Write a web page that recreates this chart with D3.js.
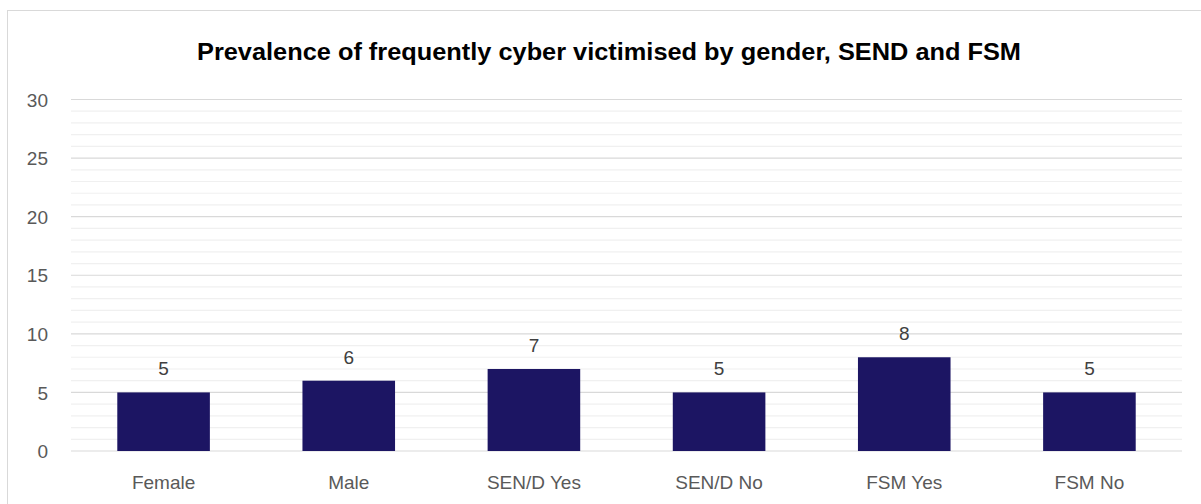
<!DOCTYPE html>
<html>
<head>
<meta charset="utf-8">
<script src="https://cdn.jsdelivr.net/npm/d3@7"></script>
<style>
  html, body { margin: 0; padding: 0; background: #ffffff; }
  svg { display: block; }
</style>
</head>
<body>
<svg id="chart" width="1201" height="504"></svg>
<script>
const title = "Prevalence of frequently cyber victimised by gender, SEND and FSM";
const categories = ["Female", "Male", "SEN/D Yes", "SEN/D No", "FSM Yes", "FSM No"];
const values = [5, 6, 7, 5, 8, 5];
const yTicks = [0, 5, 10, 15, 20, 25, 30];
const yMinorTicks = d3.range(0, 31, 1);

const svg = d3.select("#chart");
const W = 1201, H = 504;
const margin = { left: 71, right: 19, top: 99.5, bottom: 53 };

// chart border
svg.append("rect")
  .attr("x", 7.5).attr("y", 10.5)
  .attr("width", 1220).attr("height", 520)
  .attr("fill", "#ffffff")
  .attr("stroke", "#d9d9d9").attr("stroke-width", 1);

const x = d3.scaleBand()
  .domain(categories)
  .range([margin.left, W - margin.right])
  .paddingInner(0.5).paddingOuter(0.25);

const y = d3.scaleLinear()
  .domain([0, 30])
  .range([H - margin.bottom, margin.top]);

// minor gridlines
svg.append("g").selectAll("line")
  .data(yMinorTicks.filter(v => v % 5 !== 0))
  .join("line")
  .attr("x1", margin.left).attr("x2", W - margin.right)
  .attr("y1", d => y(d)).attr("y2", d => y(d))
  .attr("stroke", "#f0f0f0").attr("stroke-width", 1.2);

// major gridlines
svg.append("g").selectAll("line")
  .data(yTicks)
  .join("line")
  .attr("x1", margin.left).attr("x2", W - margin.right)
  .attr("y1", d => y(d)).attr("y2", d => y(d))
  .attr("stroke", "#d9d9d9").attr("stroke-width", 1.2);

const font = "'Liberation Sans', Arial, sans-serif";

// y axis labels
const yAxis = d3.axisLeft(y).tickValues(yTicks).tickSize(0).tickPadding(0);
const ya = svg.append("g").attr("transform", `translate(${48},0)`).call(yAxis);
ya.select(".domain").remove();
ya.selectAll("text")
  .attr("fill", "#595959")
  .style("font-family", font)
  .style("font-size", "19px")
  .attr("dy", "0.35em");

// bars
svg.append("g").selectAll("rect")
  .data(categories)
  .join("rect")
  .attr("x", d => x(d))
  .attr("width", x.bandwidth())
  .attr("y", (d, i) => y(values[i]))
  .attr("height", (d, i) => y(0) - y(values[i]))
  .attr("fill", "#1c1563");

// data labels
svg.append("g").selectAll("text")
  .data(categories)
  .join("text")
  .attr("x", d => x(d) + x.bandwidth() / 2)
  .attr("y", (d, i) => y(values[i]) - 17)
  .attr("text-anchor", "middle")
  .attr("fill", "#404040")
  .style("font-family", font)
  .style("font-size", "19px")
  .text((d, i) => values[i]);

// x axis labels
const xAxis = d3.axisBottom(x).tickSize(0).tickPadding(0);
const xa = svg.append("g").attr("transform", `translate(0,${y(0)})`).call(xAxis);
xa.select(".domain").remove();
xa.selectAll("text")
  .attr("fill", "#595959")
  .attr("y", 38).attr("dy", 0)
  .style("font-family", font)
  .style("font-size", "19px");

// title
svg.append("text")
  .attr("x", 609).attr("y", 60)
  .attr("text-anchor", "middle")
  .attr("fill", "#000000")
  .style("font-family", font)
  .style("font-weight", "bold")
  .style("font-size", "23px")
  .attr("textLength", 824)
  .attr("lengthAdjust", "spacingAndGlyphs")
  .text(title);
</script>
</body>
</html>
